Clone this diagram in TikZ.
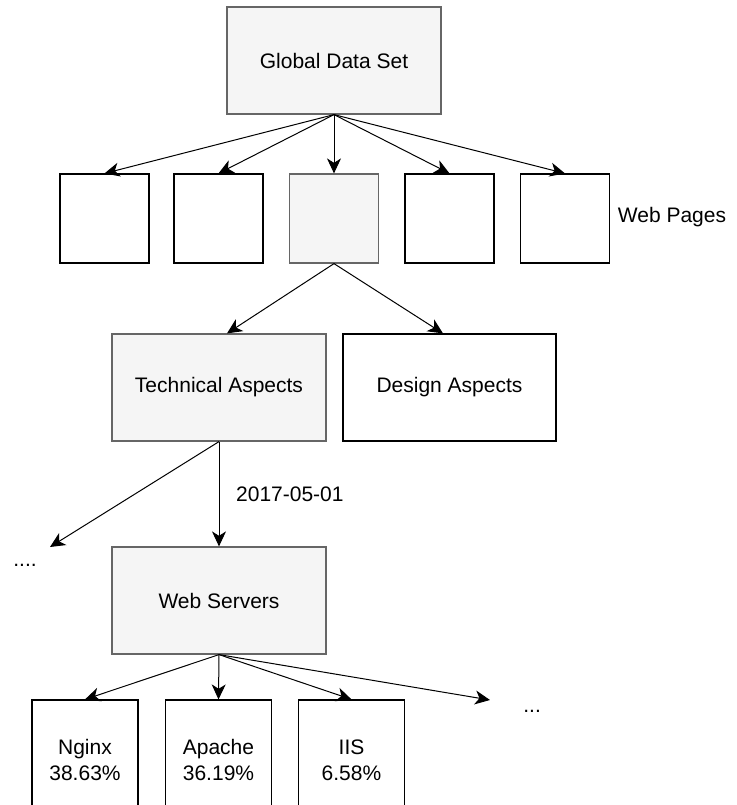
\documentclass[tikz,border=0pt]{standalone}
\usepackage{fontspec}
\setmainfont{Liberation Sans}
\usepackage{xcolor}
\usetikzlibrary{arrows.meta}
\definecolor{greyfill}{HTML}{F5F5F5}
\definecolor{greystroke}{HTML}{666666}
\tikzset{
  plainbox/.style = {
    draw=black,
    fill=white,
    line width=0.6pt,
    inner sep=0pt,
    align=center
  },
  greybox/.style = {
    plainbox,
    draw=greystroke,
    fill=greyfill
  },
  arrowlink/.style = {
    line width=0.5pt,
    -{Stealth[length=7.5pt,width=7pt,inset=2.2pt]}
  },
  diagram class/.style={
    every node/.style={
      font={\fontsize{10.5}{13}\selectfont}
    }
  },
}

\begin{document}
\begin{tikzpicture}[x=0.5pt,y=-0.5pt,diagram class]

  \useasboundingbox (0,0) rectangle (737,805);

  \node[greybox, minimum width=107pt, minimum height=53.5pt] (global) at (334,60.5) {Global Data Set};

  \foreach \page/\xpos/\edge/\inside in {
    page1/104.5/black/white,
    page2/218.5/black/white,
    page3/334/greystroke/greyfill,
    page4/449.5/black/white,
    page5/565/black/white%
  } {
    \node[plainbox, draw=\edge, fill=\inside, minimum size=44.5pt] (\page) at (\xpos,218.5) {};
    \draw[arrowlink] (global.south) -- (\page.north);
  }

  \node (pageslabel) at (672,217) {Web Pages};

  \node[greybox, minimum width=107pt, minimum height=53.5pt] (tech) at (219,387.5) {Technical Aspects};
  \node[plainbox, minimum width=106.5pt, minimum height=53.5pt] (design) at (449.5,387.5) {Design Aspects};
  \draw[arrowlink] (page3.south) -- ([xshift=4pt]tech.north);
  \draw[arrowlink] (page3.south) -- ([xshift=-3.25pt]design.north);

  \node[greybox, minimum width=107pt, minimum height=53.5pt] (servers) at (219,600.5) {Web Servers};
  \draw[arrowlink] (tech.south) -- node[right=5pt] {2017-05-01} (servers.north);

  \coordinate (moretip) at (50,547);
  \draw[arrowlink] (tech.south) -- (moretip);
  \node[anchor=base west, inner sep=0pt] (moreaspects) at (13,566) {....};

  \foreach \server/\xpos/\title/\share in {
    nginx/85/Nginx/38.63,
    apache/218.5/Apache/36.19,
    iis/351.5/IIS/6.58%
  } {
    \node[plainbox, minimum width=53pt, minimum height=60pt] (\server) at (\xpos,760) {\title\\\share\%};
    \draw[arrowlink] (servers.south) -- (\server.north);
  }

  \coordinate (othertip) at (490,700);
  \draw[arrowlink] (servers.south) -- (othertip);
  \node[anchor=base west, inner sep=0pt] (otherservers) at (523,712) {...};

\end{tikzpicture}
\end{document}
